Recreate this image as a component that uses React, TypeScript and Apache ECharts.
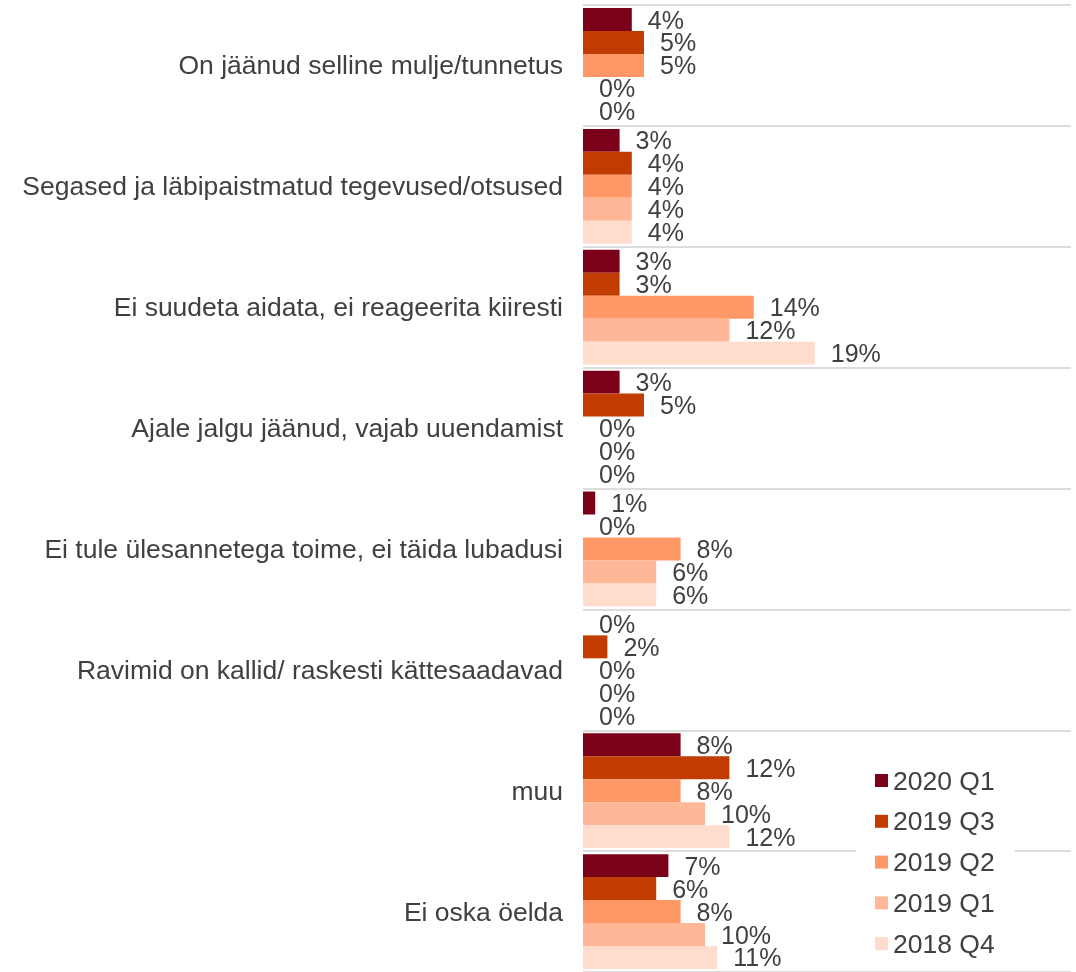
import React, { useEffect, useRef } from "react";
import * as echarts from "echarts";

const categories = [
  "On jäänud selline mulje/tunnetus",
  "Segased ja läbipaistmatud tegevused/otsused",
  "Ei suudeta aidata, ei reageerita kiiresti",
  "Ajale jalgu jäänud, vajab uuendamist",
  "Ei tule ülesannetega toime, ei täida lubadusi",
  "Ravimid on kallid/ raskesti kättesaadavad",
  "muu",
  "Ei oska öelda",
];

const seriesNames = ["2020 Q1", "2019 Q3", "2019 Q2", "2019 Q1", "2018 Q4"];
const q1_2020 = [4, 3, 3, 3, 1, 0, 8, 7];
const q3_2019 = [5, 4, 3, 5, 0, 2, 12, 6];
const q2_2019 = [5, 4, 14, 0, 8, 0, 8, 8];
const q1_2019 = [0, 4, 12, 0, 6, 0, 10, 10];
const q4_2018 = [0, 4, 19, 0, 6, 0, 12, 11];
const seriesValues = [q1_2020, q3_2019, q2_2019, q1_2019, q4_2018];
const colors = ["#7B0019", "#C03C00", "#FF9866", "#FFB798", "#FFDCCB"];

const FONT = "'Liberation Sans', Arial, sans-serif";
const TXT = "#404040";

export default function App() {
  const ref = useRef<HTMLDivElement>(null);
  useEffect(() => {
    if (!ref.current) return;
    const chart = echarts.init(ref.current, null, { renderer: "svg" });
    chart.setOption({
      animation: false,
      textStyle: { fontFamily: FONT },
      grid: { left: 583, right: 5, top: 5, bottom: -1, containLabel: false },
      legend: {
        orient: "vertical",
        left: 856,
        top: 763,
        data: seriesNames,
        icon: "rect",
        itemWidth: 13,
        itemHeight: 13,
        itemGap: 13.8,
        backgroundColor: "#ffffff",
        padding: [4, 20, 4, 19],
        textStyle: { fontSize: 26.5, color: TXT, fontFamily: FONT },
        z: 10,
      },
      xAxis: {
        type: "value",
        min: 0,
        max: 40,
        show: false,
        splitLine: { show: false },
      },
      yAxis: {
        type: "category",
        inverse: true,
        data: categories,
        axisLine: { show: false },
        axisTick: { show: false },
        axisLabel: { fontSize: 26.5, color: TXT, margin: 20, fontFamily: FONT },
        splitLine: { show: true, lineStyle: { color: "#D0D0D0", width: 1.5 } },
      },
      series: seriesNames.map((name, i) => ({
        name,
        type: "bar",
        data: seriesValues[i],
        barGap: "0%",
        barCategoryGap: "5%",
        itemStyle: { color: colors[i] },
        label: {
          show: true,
          position: "right",
          distance: 16,
          formatter: "{c}%",
          fontSize: 25,
          color: TXT,
          fontFamily: FONT,
        },
      })),
    });
    return () => chart.dispose();
  }, []);
  return (
    <div
      ref={ref}
      style={{ position: "fixed", left: 0, top: 0, width: 1076, height: 972 }}
    />
  );
}
